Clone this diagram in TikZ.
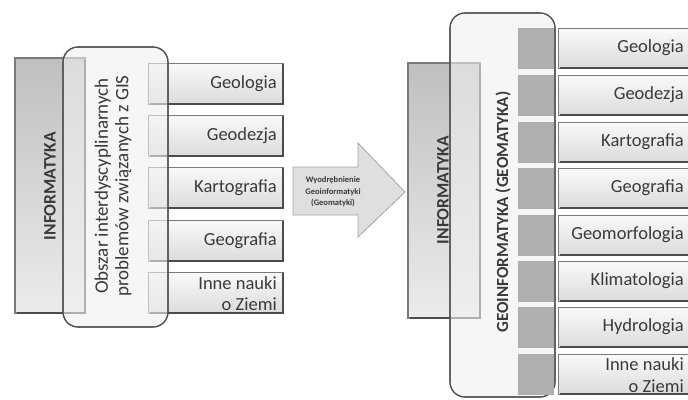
\documentclass[tikz,border=0pt]{standalone}
\usepackage{fontspec}
\setmainfont{Carlito}
\usetikzlibrary{calc}
\definecolor{txt}{HTML}{3A3A3A}
\definecolor{edge}{HTML}{7A7A7A}
\definecolor{frame}{HTML}{505050}
\tikzset{
  subj/.style={draw=edge, line width=0.8pt, top color=gray!4, bottom color=gray!28, inner sep=0pt},
  label/.style={text=txt, font=\fontsize{18.5}{20}\selectfont, align=right, anchor=east, inner sep=0pt},
  infobar/.style={draw=edge, line width=1.2pt, top color=gray!50, bottom color=gray!15},
  areabox/.style={draw=frame, line width=1.1pt, rounded corners=15pt, fill=gray!12, fill opacity=0.6},
  darksq/.style={draw=gray!65, line width=0.6pt, fill=gray!62},
  vtext/.style={rotate=90, text=txt, inner sep=0pt},
  arrowshape/.style={draw=gray!70, line width=0.8pt, fill=gray!25},
  shadowline/.style={draw=gray!60!black, line width=1.4pt}
}
\begin{document}
\begin{tikzpicture}[x=1pt,y=-1pt]
\useasboundingbox[fill=white] (0,0) rectangle (688,399);

% ---------- LEFT ----------
\path[infobar] (15,58) rectangle (85,313);
\draw[shadowline] (85,60) -- (85,313) -- (17,313);
\node[vtext, font=\fontsize{17.5}{19}\selectfont\bfseries] (infL) at (50,186) {INFORMATYKA};

\foreach \n/\t in {1/63,2/115,3/167,4/220,5/272}{
  \path[subj] (148,\t) rectangle (283,\t+41);
  \draw[shadowline] (283,\t+1) -- (283,\t+41) -- (150,\t+41);
  \coordinate (lb\n) at (277,\t+20.5);
}
\node[label] (lg1) at (lb1) {Geologia};
\node[label] (lg2) at (lb2) {Geodezja};
\node[label] (lg3) at (lb3) {Kartografia};
\node[label] (lg4) at (lb4) {Geografia};
\node[label, font=\fontsize{18.5}{21.5}\selectfont] (lg5) at ($(lb5)+(0,1)$) {Inne nauki\\o Ziemi};

\path[areabox] (63,47) rectangle (168,327);
\draw[frame, line width=1.1pt, rounded corners=15pt] (63,47) rectangle (168,327);
\node[vtext, font=\fontsize{19}{20.5}\selectfont, align=center] (obszar) at (113,186)
  {Obszar interdyscyplinarnych\\problemów związanych z GIS};

% ---------- ARROW ----------
\path[arrowshape] (293,167) -- (358,167) -- (358,143) -- (405,192) -- (358,237) -- (358,215) -- (293,215) -- cycle;
\node[text=txt, font=\fontsize{8.5}{11.5}\selectfont\bfseries, align=center, inner sep=0pt] (arrtxt) at (333,192)
  {Wyodrębnienie\\Geoinformatyki\\(Geomatyki)};

% ---------- RIGHT ----------
\path[infobar] (408,63) rectangle (480,318);
\draw[shadowline] (480,65) -- (480,318) -- (410,318);
\node[vtext, font=\fontsize{17.5}{19}\selectfont\bfseries] (infR) at (443,190) {INFORMATYKA};

\foreach \n/\t in {1/28,2/75,3/122,4/168,5/215,6/261,7/307,8/354}{
  \path[subj] (558,\t) rectangle (692,\t+40);
  \draw[shadowline] (560,\t+40) -- (692,\t+40);
  \coordinate (rb\n) at (684,\t+20);
}

\path[areabox] (450,13) rectangle (555,397);
\draw[frame, line width=1.1pt, rounded corners=15pt] (450,13) rectangle (555,397);

\foreach \n/\t in {1/28,2/75,3/122,4/168,5/215,6/261,7/307,8/354}{
  \path[darksq] (518,\t) rectangle (553,\t+40);
}

\node[vtext, font=\fontsize{17}{19}\selectfont\bfseries] (geoinf) at (503,212) {GEOINFORMATYKA (GEOMATYKA)};

\node[label] (rg1) at (rb1) {Geologia};
\node[label] (rg2) at (rb2) {Geodezja};
\node[label] (rg3) at (rb3) {Kartografia};
\node[label] (rg4) at (rb4) {Geografia};
\node[label] (rg5) at (rb5) {Geomorfologia};
\node[label] (rg6) at (rb6) {Klimatologia};
\node[label] (rg7) at (rb7) {Hydrologia};
\node[label, font=\fontsize{18.5}{21.5}\selectfont] (rg8) at ($(rb8)+(0,1)$) {Inne nauki\\o Ziemi};
\end{tikzpicture}
\end{document}
